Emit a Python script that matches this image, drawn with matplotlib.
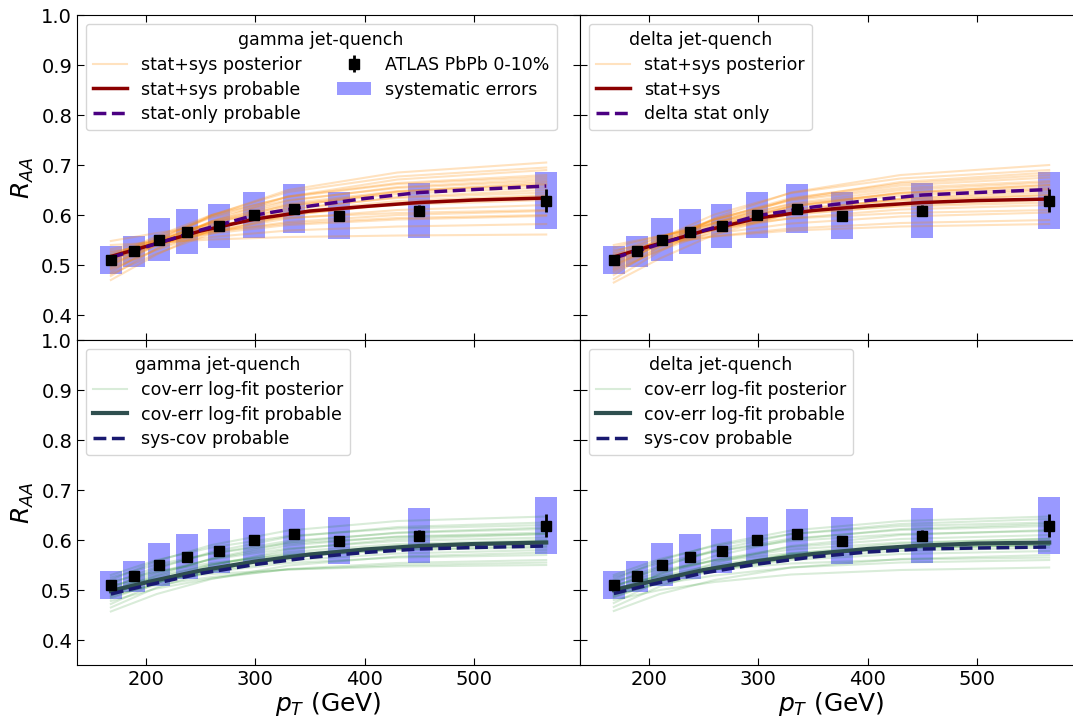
# libraries
import numpy as np
import matplotlib
matplotlib.use('Agg')
import matplotlib.pyplot as plt

# ATLAS PbPb 0-10% jet R_AA
pt = [168, 189, 212, 237.5, 266.5, 299, 335.5, 376.5, 449.5, 566]
raa = [0.511, 0.528, 0.551, 0.567, 0.579, 0.601, 0.613, 0.599, 0.609, 0.629]
raa_stat = [0.003, 0.003, 0.003, 0.004, 0.004, 0.005, 0.006, 0.008, 0.011, 0.023]
raa_sys = [0.028, 0.031, 0.043, 0.045, 0.044, 0.046, 0.049, 0.047, 0.055, 0.057]
bin_halfwidth = 10

# model curves
pt_curve = [168, 200, 250, 300, 350, 400, 450, 500, 566]
gamma_statsys = [0.517, 0.537, 0.568, 0.592, 0.608, 0.617, 0.625, 0.630, 0.634]
gamma_statonly = [0.515, 0.536, 0.570, 0.600, 0.618, 0.633, 0.645, 0.651, 0.658]
delta_statsys = [0.516, 0.537, 0.568, 0.594, 0.609, 0.618, 0.625, 0.629, 0.632]
delta_statonly = [0.514, 0.535, 0.569, 0.599, 0.616, 0.629, 0.640, 0.645, 0.651]
gamma_covfit = [0.498, 0.515, 0.539, 0.557, 0.571, 0.581, 0.588, 0.592, 0.595]
gamma_syscov = [0.492, 0.509, 0.533, 0.551, 0.565, 0.575, 0.582, 0.585, 0.588]
delta_covfit = [0.500, 0.516, 0.540, 0.558, 0.572, 0.582, 0.589, 0.593, 0.595]
delta_syscov = [0.493, 0.510, 0.534, 0.552, 0.566, 0.576, 0.582, 0.584, 0.586]

# posterior samples
pt_post = [168, 210, 260, 330, 430, 566]
gamma_post = [
    [.470, .521, .571, .616, .647, .665],
    [.478, .533, .588, .637, .671, .690],
    [.485, .542, .599, .650, .685, .705],
    [.490, .532, .573, .610, .636, .650],
    [.495, .541, .587, .628, .656, .672],
    [.500, .542, .583, .620, .646, .660],
    [.503, .539, .574, .606, .628, .640],
    [.507, .552, .597, .637, .664, .680],
    [.510, .548, .585, .619, .642, .655],
    [.512, .540, .568, .593, .610, .620],
    [.515, .555, .595, .630, .654, .668],
    [.518, .551, .584, .613, .634, .645],
    [.520, .543, .566, .586, .600, .608],
    [.522, .550, .578, .603, .620, .630],
    [.525, .544, .563, .580, .591, .598],
    [.528, .542, .556, .569, .577, .582],
    [.532, .550, .567, .583, .594, .600],
    [.540, .545, .551, .556, .559, .561],
    [.548, .564, .580, .595, .604, .610],
    [.498, .549, .600, .646, .677, .695],
    [.482, .523, .563, .599, .624, .638],
    [.505, .546, .587, .623, .648, .662],
    [.517, .558, .600, .636, .662, .676],
    [.493, .530, .567, .600, .622, .635],
]
delta_post = [
    [.465, .513, .561, .604, .633, .650],
    [.472, .527, .583, .632, .666, .685],
    [.480, .537, .594, .645, .680, .700],
    [.486, .531, .576, .617, .644, .660],
    [.490, .529, .568, .603, .627, .640],
    [.495, .543, .591, .634, .663, .680],
    [.498, .541, .585, .623, .650, .665],
    [.502, .539, .576, .609, .632, .645],
    [.505, .553, .601, .644, .673, .690],
    [.508, .540, .571, .600, .619, .630],
    [.510, .551, .592, .629, .654, .668],
    [.513, .549, .585, .617, .639, .652],
    [.516, .543, .570, .594, .611, .620],
    [.518, .541, .563, .583, .597, .605],
    [.520, .555, .590, .621, .643, .655],
    [.523, .540, .558, .573, .584, .590],
    [.526, .556, .585, .612, .630, .640],
    [.530, .544, .557, .569, .577, .582],
    [.535, .558, .582, .603, .617, .625],
    [.540, .558, .576, .593, .604, .610],
    [.500, .546, .591, .631, .659, .675],
    [.492, .536, .579, .618, .645, .660],
]
gamma_cov_post = [
    [.457, .492, .522, .549, .567, .575],
    [.465, .505, .538, .569, .589, .598],
    [.472, .514, .549, .581, .602, .612],
    [.478, .503, .523, .542, .554, .560],
    [.483, .515, .541, .565, .581, .588],
    [.488, .529, .563, .595, .615, .625],
    [.492, .524, .551, .576, .592, .600],
    [.495, .518, .536, .554, .565, .570],
    [.498, .533, .562, .589, .607, .615],
    [.500, .528, .551, .572, .586, .592],
    [.503, .543, .576, .606, .626, .635],
    [.507, .536, .561, .583, .598, .605],
    [.510, .522, .532, .541, .547, .550],
    [.513, .546, .573, .598, .614, .622],
    [.517, .537, .554, .570, .580, .585],
    [.520, .558, .590, .619, .638, .647],
    [.525, .551, .573, .593, .606, .612],
    [.530, .560, .585, .608, .623, .630],
    [.490, .510, .526, .541, .550, .555],
    [.486, .514, .538, .559, .573, .580],
]
delta_cov_post = [
    [.458, .492, .520, .545, .562, .570],
    [.466, .507, .541, .573, .593, .603],
    [.474, .518, .554, .588, .610, .620],
    [.480, .500, .516, .531, .540, .545],
    [.485, .518, .546, .571, .587, .595],
    [.489, .532, .568, .601, .622, .632],
    [.493, .522, .546, .569, .583, .590],
    [.496, .521, .541, .560, .572, .578],
    [.499, .532, .560, .586, .602, .610],
    [.502, .528, .550, .571, .584, .590],
    [.505, .546, .580, .612, .632, .642],
    [.508, .536, .560, .581, .595, .602],
    [.511, .527, .541, .553, .561, .565],
    [.514, .548, .577, .603, .620, .628],
    [.518, .540, .558, .574, .585, .590],
    [.521, .559, .590, .619, .638, .647],
    [.526, .554, .577, .598, .612, .618],
    [.530, .562, .588, .612, .628, .635],
    [.491, .512, .529, .545, .555, .560],
    [.487, .516, .541, .563, .578, .585],
]

fig, axes = plt.subplots(2, 2, figsize=(10.73, 7.19), dpi=100, sharex=True, sharey=True)
fig.subplots_adjust(left=0.0718, right=1.0093, top=0.9791, bottom=0.0751, wspace=0, hspace=0)

raa_a = np.array(raa)
sys_a = np.array(raa_sys)


def draw_data(ax):
    """systematic boxes + ATLAS points"""
    box = ax.bar(pt, 2 * sys_a, bottom=raa_a - sys_a, width=2 * bin_halfwidth,
                 color='blue', alpha=0.4, linewidth=0, label='systematic errors')
    dat = ax.errorbar(pt, raa, yerr=raa_stat, fmt='s', color='black', ms=7,
                      elinewidth=2, capsize=0, zorder=5, label='ATLAS PbPb 0-10%')
    return dat, box


def draw_posterior(ax, samples, color, alpha, label):
    h = None
    for i, s in enumerate(samples):
        l, = ax.plot(pt_post, s, color=color, alpha=alpha, lw=1.5,
                     label=label if i == 0 else None)
        if i == 0:
            h = l
    return h


# top left: gamma
ax = axes[0, 0]
dat, box = draw_data(ax)
hp = draw_posterior(ax, gamma_post, 'darkorange', 0.25, 'stat+sys posterior')
hr, = ax.plot(pt_curve, gamma_statsys, color='darkred', lw=2.5, label='stat+sys probable')
hd, = ax.plot(pt_curve, gamma_statonly, color='indigo', lw=2.5, ls='--', label='stat-only probable')
ax.legend(handles=[hp, hr, hd, dat, box], ncol=2, loc='upper left', title='gamma jet-quench',
          fontsize=12.5, title_fontsize=12.5, columnspacing=2.0, labelspacing=0.4)

# top right: delta
ax = axes[0, 1]
dat, box = draw_data(ax)
hp = draw_posterior(ax, delta_post, 'darkorange', 0.25, 'stat+sys posterior')
hr, = ax.plot(pt_curve, delta_statsys, color='darkred', lw=2.5, label='stat+sys')
hd, = ax.plot(pt_curve, delta_statonly, color='indigo', lw=2.5, ls='--', label='delta stat only')
ax.legend(handles=[hp, hr, hd], loc='upper left', title='delta jet-quench',
          fontsize=12.5, title_fontsize=12.5, labelspacing=0.4)

# bottom left: gamma cov
ax = axes[1, 0]
dat, box = draw_data(ax)
hp = draw_posterior(ax, gamma_cov_post, 'green', 0.15, 'cov-err log-fit posterior')
hr, = ax.plot(pt_curve, gamma_covfit, color='darkslategray', lw=3, label='cov-err log-fit probable')
hd, = ax.plot(pt_curve, gamma_syscov, color='midnightblue', lw=2.5, ls='--', label='sys-cov probable')
ax.legend(handles=[hp, hr, hd], loc='upper left', title='gamma jet-quench',
          fontsize=12.5, title_fontsize=12.5, labelspacing=0.4)

# bottom right: delta cov
ax = axes[1, 1]
dat, box = draw_data(ax)
hp = draw_posterior(ax, delta_cov_post, 'green', 0.15, 'cov-err log-fit posterior')
hr, = ax.plot(pt_curve, delta_covfit, color='darkslategray', lw=3, label='cov-err log-fit probable')
hd, = ax.plot(pt_curve, delta_syscov, color='midnightblue', lw=2.5, ls='--', label='sys-cov probable')
ax.legend(handles=[hp, hr, hd], loc='upper left', title='delta jet-quench',
          fontsize=12.5, title_fontsize=12.5, labelspacing=0.4)

for ax in axes.flat:
    ax.set_ylim(0.35, 1.0)
    ax.set_yticks([0.4, 0.5, 0.6, 0.7, 0.8, 0.9, 1.0])
    ax.set_xticks([200, 300, 400, 500])
    ax.tick_params(direction='in', top=True, right=True, labelsize=14, length=5)

for ax in axes[:, 0]:
    ax.set_ylabel('$R_{AA}$', fontsize=18)
for ax in axes[1, :]:
    ax.set_xlabel('$p_T$ (GeV)', fontsize=18, labelpad=1)

plt.savefig('out.png', dpi=100)
